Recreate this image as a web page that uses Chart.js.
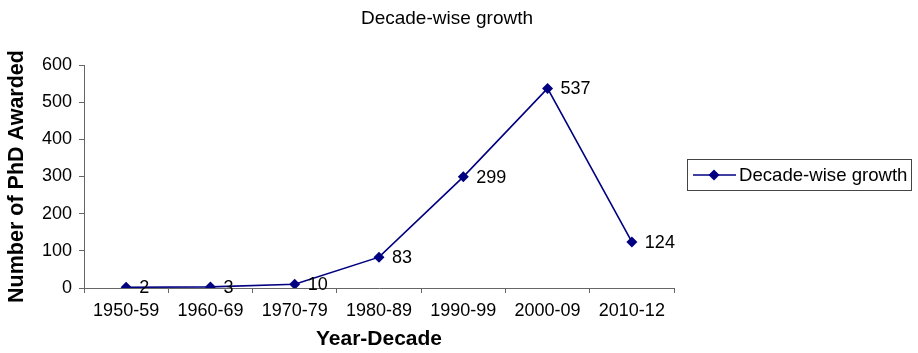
<!DOCTYPE html>
<html>
<head>
<meta charset="utf-8">
<script src="https://cdn.jsdelivr.net/npm/chart.js@4"></script>
<style>
  body { margin: 0; background: #fff; }
</style>
</head>
<body>
<canvas id="chart" width="918" height="353"></canvas>
<script>
const labels = ['1950-59', '1960-69', '1970-79', '1980-89', '1990-99', '2000-09', '2010-12'];
const phdAwarded = [2, 3, 10, 83, 299, 537, 124];
const seriesName = 'Decade-wise growth';
const chartTitle = 'Decade-wise growth';

const FONT = "'Liberation Sans', Arial, sans-serif";
const NAVY = '#000080';
const AXIS = '#666666';

const ctx = document.getElementById('chart').getContext('2d');

// title, legend and point labels drawn on top
const extras = {
  id: 'extras',
  afterDraw(chart) {
    const c = chart.ctx;
    c.save();
    c.fillStyle = '#000';
    c.font = '19px ' + FONT;
    c.textAlign = 'center';
    c.textBaseline = 'alphabetic';
    c.fillText(chartTitle, 447, 24);

    // value labels beside points
    c.font = '18px ' + FONT;
    const meta = chart.getDatasetMeta(0);
    c.textAlign = 'left';
    c.textBaseline = 'middle';
    meta.data.forEach((pt, i) => {
      c.fillText(String(phdAwarded[i]), pt.x + 13, pt.y + 1);
    });

    // legend box
    c.strokeStyle = '#444';
    c.lineWidth = 1;
    c.strokeRect(687.5, 159.5, 224, 31);
    c.strokeStyle = NAVY;
    c.lineWidth = 1.5;
    c.beginPath();
    c.moveTo(693, 175);
    c.lineTo(736, 175);
    c.stroke();
    c.fillStyle = NAVY;
    c.beginPath();
    c.moveTo(714, 169.5);
    c.lineTo(719.5, 175);
    c.lineTo(714, 180.5);
    c.lineTo(708.5, 175);
    c.closePath();
    c.fill();
    c.fillStyle = '#000';
    c.font = '18.6px ' + FONT;
    c.fillText(seriesName, 739, 176);
    c.restore();
  }
};

new Chart(ctx, {
  type: 'line',
  data: {
    labels: labels,
    datasets: [{
      label: seriesName,
      data: phdAwarded,
      borderColor: NAVY,
      backgroundColor: NAVY,
      borderWidth: 1.6,
      pointStyle: 'rectRot',
      pointRadius: 5.5,
      pointBorderWidth: 0,
      fill: false,
      tension: 0
    }]
  },
  options: {
    responsive: false,
    animation: false,
    layout: { padding: { top: 65, right: 244, bottom: 0, left: 0 } },
    plugins: {
      legend: { display: false },
      title: { display: false },
      tooltip: { enabled: false }
    },
    scales: {
      x: {
        offset: true,
        afterFit(scale) { scale.height = 65; },
        grid: { offset: true, drawOnChartArea: false, drawTicks: true, tickLength: 5, color: AXIS },
        border: { display: true, color: AXIS, width: 1 },
        ticks: { color: '#000', font: { family: FONT, size: 18 }, padding: 7, maxRotation: 0 },
        title: {
          display: true,
          text: 'Year-Decade',
          color: '#000',
          font: { family: FONT, size: 21, weight: 'bold' },
          padding: { top: 0, bottom: 1 }
        }
      },
      y: {
        min: 0,
        max: 600,
        afterFit(scale) { scale.width = 84; },
        grid: { drawOnChartArea: false, drawTicks: true, tickLength: 5, color: AXIS },
        border: { display: true, color: AXIS, width: 1 },
        ticks: { stepSize: 100, color: '#000', font: { family: FONT, size: 18 }, padding: 7 },
        title: {
          display: true,
          text: 'Number of PhD Awarded',
          color: '#000',
          font: { family: FONT, size: 21.5, weight: 'bold' },
          padding: { top: 4, bottom: 0 }
        }
      }
    }
  },
  plugins: [extras]
});
</script>
</body>
</html>
